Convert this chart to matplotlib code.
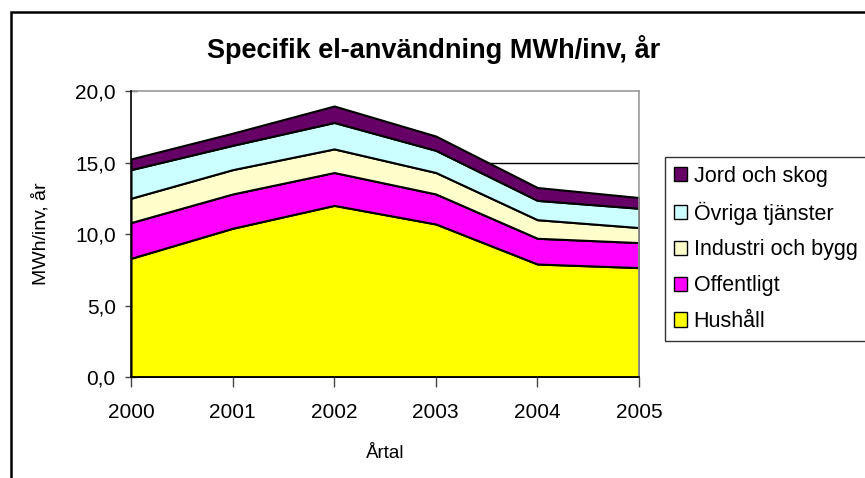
import matplotlib
matplotlib.use("Agg")
import matplotlib.pyplot as plt
from matplotlib.patches import Rectangle, Patch

plt.rcParams['font.family'] = ['Liberation Sans', 'DejaVu Sans']

years = [2000, 2001, 2002, 2003, 2004, 2005]
hushall = [8.3, 10.4, 12.0, 10.7, 7.9, 7.65]
offentligt = [2.5, 2.4, 2.3, 2.1, 1.8, 1.75]
industri = [1.7, 1.7, 1.65, 1.5, 1.3, 1.05]
ovriga = [2.0, 1.7, 1.85, 1.55, 1.35, 1.35]
jord = [0.75, 0.85, 1.15, 1.0, 0.9, 0.75]

series_names = ["Hushåll", "Offentligt", "Industri och bygg", "Övriga tjänster", "Jord och skog"]
colors = ["#FFFF00", "#FF00FF", "#FFFFCC", "#CCFFFF", "#660066"]
yticks = [0, 5, 10, 15, 20]
ytick_labels = ["0,0", "5,0", "10,0", "15,0", "20,0"]

W, H = 865, 478
fig = plt.figure(figsize=(W / 100, H / 100), dpi=100)
ax = fig.add_axes([131 / W, 1 - 377 / H, (639 - 131) / W, (377 - 91) / H])

for y in [5, 10, 15]:
    ax.axhline(y, color="black", lw=1.0, zorder=0)

ax.stackplot(years, hushall, offentligt, industri, ovriga, jord,
             colors=colors, edgecolor="black", linewidth=1.5, zorder=2)

ax.set_xlim(2000, 2005)
ax.set_ylim(0, 20)
ax.set_xticks(years)
ax.set_xticklabels([str(y) for y in years], fontsize=15)
ax.set_yticks(yticks)
ax.set_yticklabels(ytick_labels, fontsize=15)
ax.tick_params(axis='y', direction='inout', length=8, width=1, color="#444444", pad=7)
ax.tick_params(axis='x', direction='out', length=7, width=1, color="#444444", pad=12)

for s in ['top', 'right']:
    ax.spines[s].set_color("#999999")
    ax.spines[s].set_linewidth(1.2)
for s in ['left', 'bottom']:
    ax.spines[s].set_color("black")
    ax.spines[s].set_linewidth(1.2)
    ax.spines[s].set_zorder(3)

ax.set_ylabel("MWh/inv, år", fontsize=14, labelpad=18)
ax.set_xlabel("Årtal", fontsize=13.5, labelpad=16)

fig.text(0.5 * (205 + 663) / W, 1 - 49 / H, "Specifik el-användning MWh/inv, år",
         fontsize=19.5, fontweight='bold', ha='center', va='center')

# outer chart frame
fig.add_artist(Rectangle((11 / W, -0.05), 1.0, 1.05 - 12 / H, transform=fig.transFigure,
                         fill=False, edgecolor="black", linewidth=1.8, clip_on=False))

handles = [Patch(facecolor=c, edgecolor="black", linewidth=1.0, label=n)
           for n, c in zip(series_names[::-1], colors[::-1])]
leg = fig.legend(handles=handles, loc='upper left', bbox_to_anchor=(665 / W, 1 - 157 / H),
                 fontsize=15.5, frameon=True, fancybox=False, handlelength=0.6, handleheight=0.65,
                 handletextpad=0.33, labelspacing=0.69, borderpad=0.4, borderaxespad=0)
leg.get_frame().set_edgecolor("black")
leg.get_frame().set_linewidth(1.0)

fig.savefig("out.png", dpi=100)
